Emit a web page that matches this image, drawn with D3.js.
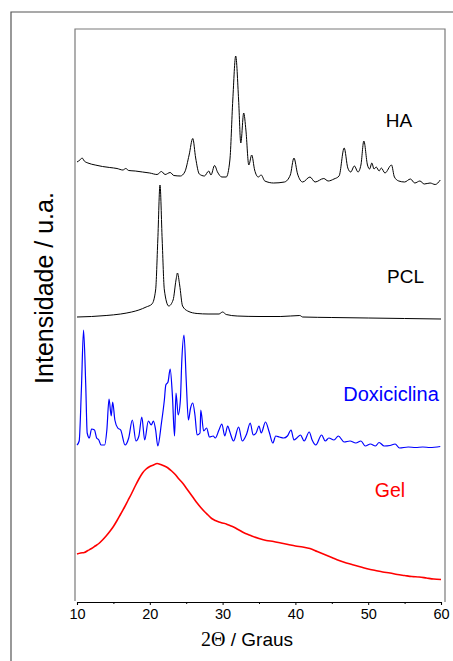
<!DOCTYPE html>
<html>
<head>
<meta charset="utf-8">
<script src="https://cdn.jsdelivr.net/npm/d3@7"></script>
<style>
  html, body { margin: 0; padding: 0; background: #fff; }
  svg { display: block; }
  text { font-family: "Liberation Sans", Arial, sans-serif; }
</style>
</head>
<body>
<svg id="chart" width="453" height="661"></svg>
<script>
// Diffractograms (2θ in degrees, intensity in arbitrary units, traces stacked)
const haTheta = [10.0,10.4,10.7,11.0,11.5,12.5,13.5,14.5,15.5,16.3,16.7,17.1,18,19,20,21,21.6,22.1,22.8,23.3,24.2,24.8,25.4,25.9,26.3,26.8,27.5,28.1,28.4,28.9,29.3,29.9,30.5,31.0,31.4,31.8,32.2,32.5,32.9,33.2,33.6,34.0,34.4,34.9,35.3,35.8,37,38.5,39.3,39.8,40.3,41,42.0,42.7,43.9,44.5,45.3,46.0,46.7,47.2,47.6,48.1,48.6,49.0,49.4,49.9,50.2,50.5,50.8,51.1,51.5,51.8,52.3,53.2,53.6,54.2,55.0,55.8,56.4,57.1,57.7,58.5,59.2,59.9];
const haIntensity = [440,442,444,441,439,437,435.5,434.5,433.5,432,433.5,431.5,431,430,429,427.5,430.5,427.5,429.5,426.5,426,430,447,463.5,444,428,426,431,427,436.5,430,425,425,442,502,546,502,459,489,472,437,447,432,425,427,421,419,420,427,444,428,420,425,420,423.5,421,423,426,454,434,430,436,430,437,461,437,433,439,433,435,431,434,429,437,425,421,420,423,419,421,418,419,417.5,422];

const pclTheta = [10,12,14,16,17.5,18.5,19.5,20.3,20.8,21.1,21.4,21.7,22.0,22.6,23.2,23.6,23.8,24.1,24.5,25.2,26.5,28,29.5,30.0,30.5,32,35,38,40.6,41,45,50,55,60];
const pclIntensity = [285,285.5,286.5,288,290,292,295,298,312,362,417,362,312,296,302,322,329,317,296,291,288.5,288,288,290,287.5,286,285.5,285.5,286.5,285,284.5,284,283.5,283];

const doxTheta = [10.0,10.3,10.6,10.9,11.2,11.4,11.7,12.0,12.4,12.7,13.0,13.3,13.8,14.1,14.4,14.7,14.9,15.2,15.6,16.0,16.6,17.1,17.6,18.1,18.5,18.9,19.3,19.8,20.2,20.5,20.8,21.1,21.6,22.0,22.2,22.5,22.8,23.1,23.4,23.6,23.9,24.2,24.4,24.7,25.0,25.3,25.6,25.9,26.2,26.5,26.9,27.0,27.4,27.8,28.2,28.7,29.0,29.5,29.9,30.3,30.7,31.0,31.5,32.2,32.7,33.3,33.8,34.2,34.6,35.0,35.3,35.9,36.4,36.9,37.3,37.8,38.4,38.9,39.4,39.8,40.2,40.7,41.2,41.9,42.3,42.8,43.6,44.1,44.6,45.3,45.9,46.7,47.5,48.3,49.0,49.6,50.3,51.0,51.5,52.2,53.0,53.7,54.3,55.5,56.5,57.5,58.5,59.9];
const doxIntensity = [157,161,212,272,217,169,164,173,172,164,162,157,157,172,203,186,200,182,174,172,157,164,182,161,166,185,162,181,177,181,172,156,179,202,217,220,233,207,166,209,187,202,242,267,222,182,194,199,187,167,169,192,171,174,165,166,164,172,178,166,176,170,161,175,161,168,179,167,169,176,169,180,170,159,166,165,164,166,172,162,164,167,161,170,162,157,167,161,164,162,166,160,161,159,161,156,158,156,159.5,156,156.5,158,154,155,154.5,155,154.5,155.5];

const gelTheta = [10,10.5,11,11.5,12,12.5,13,13.5,14,14.5,15,15.5,16,16.5,17,17.5,18,18.5,19,19.5,20,20.5,21,21.5,22,22.5,23,23.5,24,24.5,25,25.5,26,26.5,27,27.5,28,28.5,29,29.5,30,30.5,31,31.5,32,32.5,33,33.5,34,35,36,37,38,39,40,41,42,43,44,45,46,47,48,49,50,51,52,53,54,55,56,57,58,59,60];
const gelIntensity = [48,49,49.5,51.5,53.5,56,58.5,62,66,70.5,75.5,81.5,88,94.5,101.5,108.5,116,123,129,133,135.5,137,138.5,137.5,136,134,131,127.5,123,119,114,109,104,99,94.5,90.5,87,83.5,81.5,80,79,78,76.5,75,73,71,69,67.5,66,63.5,61.5,60.5,59,57.5,56,55,53.5,50.5,47.5,44.5,41.5,39,37,35,33,31.5,30,29,27.5,26.5,25.5,25,24,23,22.5];

const seriesNames = ["HA", "PCL", "Doxiciclina", "Gel"];
const seriesColors = ["#000000", "#000000", "#0000ff", "#ff0000"];
const xTicks = [10, 20, 30, 40, 50, 60];
const xMinorTicks = [15, 25, 35, 45, 55];
const yTitle = "Intensidade / u.a.";

const svg = d3.select("#chart");
const plot = { left: 75, right: 445, top: 29, bottom: 602 };

const x = d3.scaleLinear().domain([10, 60]).range([77, 441]);
const y = d3.scaleLinear().domain([0, 573]).range([plot.bottom, plot.top]);

// outer frame of the figure
svg.append("path")
  .attr("d", "M11,661 L11,12 L453,12")
  .attr("fill", "none").attr("stroke", "#555").attr("stroke-width", 1.2);

// plot frame (top, right, left)
svg.append("path")
  .attr("d", `M${plot.left},${plot.bottom - 1} L${plot.left},${plot.top} L${plot.right},${plot.top} L${plot.right},${plot.bottom}`)
  .attr("fill", "none").attr("stroke", "#7a7a7a").attr("stroke-width", 1.2);

// bottom axis
const xAxis = d3.axisBottom(x).tickValues(xTicks).tickSize(3).tickPadding(4).tickFormat(d3.format("d"));
const gx = svg.append("g").attr("transform", `translate(0,${plot.bottom})`).call(xAxis);
gx.select(".domain").attr("stroke", "#000").attr("stroke-width", 1.1);
gx.selectAll(".tick line").attr("stroke", "#000");
gx.selectAll(".tick text").attr("font-size", 14.5).attr("fill", "#000")
  .attr("font-family", "'Liberation Sans', Arial, sans-serif");
const xMinor = d3.axisBottom(x).tickValues(xMinorTicks).tickSize(2).tickFormat("");
const gm = svg.append("g").attr("transform", `translate(0,${plot.bottom})`).call(xMinor);
gm.select(".domain").remove();
gm.selectAll(".tick line").attr("stroke", "#000");

// axis titles
const xt = svg.append("text").attr("x", 247).attr("y", 646).attr("text-anchor", "middle")
  .attr("font-size", 19).attr("fill", "#000");
xt.append("tspan").attr("font-family", "'Liberation Serif', 'Times New Roman', serif").attr("font-size", 20).text("2\u0398");
xt.append("tspan").text(" / Graus");
svg.append("text").attr("transform", "translate(53,288) rotate(-90)")
  .attr("text-anchor", "middle").attr("font-size", 25).attr("fill", "#000").text(yTitle);

// traces
svg.append("clipPath").attr("id", "clip").append("rect")
  .attr("x", plot.left).attr("y", plot.top)
  .attr("width", plot.right - plot.left).attr("height", plot.bottom - plot.top);

const smooth = d3.line().x(d => x(d[0])).y(d => y(d[1])).curve(d3.curveMonotoneX);
const traces = [
  [haTheta, haIntensity],
  [pclTheta, pclIntensity],
  [doxTheta, doxIntensity],
  [gelTheta, gelIntensity]
];
const widths = [1, 1, 1.2, 1.6];
const g = svg.append("g").attr("clip-path", "url(#clip)");
traces.forEach(([t, v], i) => {
  g.append("path")
    .datum(d3.zip(t, v))
    .attr("d", smooth)
    .attr("fill", "none")
    .attr("stroke", seriesColors[i])
    .attr("stroke-width", widths[i])
    .attr("stroke-linejoin", "round");
});

// trace labels
const labelPos = [[399, 127], [405.5, 283], [391, 401], [390, 497]];
const labelSize = [19, 19, 20, 19.5];
seriesNames.forEach((name, i) => {
  svg.append("text")
    .attr("x", labelPos[i][0]).attr("y", labelPos[i][1])
    .attr("text-anchor", "middle").attr("font-size", labelSize[i])
    .attr("fill", seriesColors[i]).text(name);
});
</script>
</body>
</html>
